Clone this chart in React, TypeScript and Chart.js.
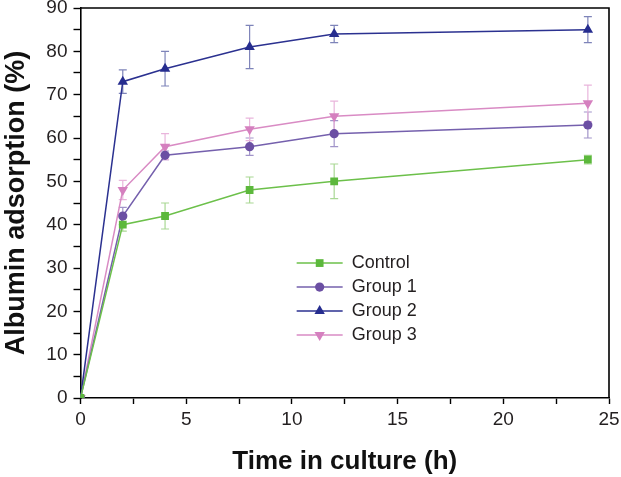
import React, { useEffect, useRef } from 'react';
import { Chart, registerables } from 'chart.js';

Chart.register(...registerables);

// ---- data ----
const hours = [0, 2, 4, 8, 12, 24];
const seriesNames = ['Control', 'Group 1', 'Group 2', 'Group 3'];
const controlValues = [0, 40, 42, 48, 50, 55];
const controlErrors = [0, 1.5, 3, 3, 4, 1];
const group1Values = [0, 42, 56, 58, 61, 63];
const group1Errors = [0, 2, 1, 2, 3, 3];
const group2Values = [0, 73, 76, 81, 84, 85];
const group2Errors = [0, 2.7, 4, 5, 2, 3];
const group3Values = [0, 48, 58, 62, 65, 68];
const group3Errors = [0, 2.2, 3, 2.6, 3.5, 4.2];
const xTickLabels = [0, 5, 10, 15, 20, 25];
const yTickLabels = [0, 10, 20, 30, 40, 50, 60, 70, 80, 90];

const allValues = [controlValues, group1Values, group2Values, group3Values];
const allErrors = [controlErrors, group1Errors, group2Errors, group3Errors];

// ---- styles ----
const lineColors = ['#6cc04a', '#7560ad', '#2b3190', '#d98bc4'];
const markerColors = ['#5cb83c', '#6b4fa3', '#262d8f', '#d580bf'];
const errorColors = ['#a9d894', '#a194c9', '#7e84b9', '#e9b5dc'];
const pointStyles = ['rect', 'circle', 'triangle', 'triangle'];
const pointRotations = [0, 0, 0, 180];
const pointRadii = [5.5, 4.6, 6, 6];
const FONT = '"Liberation Sans", Arial, Helvetica, sans-serif';
const TEXT = '#231f20';

function drawMarker(ctx: CanvasRenderingContext2D, style: string, rot: number, r: number, x: number, y: number) {
  ctx.beginPath();
  if (style === 'rect') {
    const s = Math.SQRT1_2 * r;
    ctx.rect(x - s, y - s, 2 * s, 2 * s);
  } else if (style === 'circle') {
    ctx.arc(x, y, r, 0, Math.PI * 2);
  } else {
    const a = (rot * Math.PI) / 180;
    for (let k = 0; k < 3; k++) {
      const ang = a + (k * 2 * Math.PI) / 3;
      const px = x + Math.sin(ang) * r;
      const py = y - Math.cos(ang) * r;
      if (k === 0) ctx.moveTo(px, py);
      else ctx.lineTo(px, py);
    }
    ctx.closePath();
  }
  ctx.fill();
}

const errorBarPlugin = {
  id: 'errorBars',
  beforeDatasetsDraw(chart: any) {
    const { ctx } = chart;
    const xs = chart.scales.x;
    const ys = chart.scales.y;
    chart.data.datasets.forEach((ds: any, i: number) => {
      const errs = allErrors[i];
      ctx.save();
      ctx.strokeStyle = errorColors[i];
      ctx.lineWidth = 1.2;
      ds.data.forEach((p: any, j: number) => {
        const e = errs[j];
        if (!e) return;
        const x = xs.getPixelForValue(p.x);
        const y1 = ys.getPixelForValue(p.y + e);
        const y2 = ys.getPixelForValue(p.y - e);
        ctx.beginPath();
        ctx.moveTo(x, y1);
        ctx.lineTo(x, y2);
        ctx.moveTo(x - 4, y1);
        ctx.lineTo(x + 4, y1);
        ctx.moveTo(x - 4, y2);
        ctx.lineTo(x + 4, y2);
        ctx.stroke();
      });
      ctx.restore();
    });
  },
};

const framePlugin = {
  id: 'frame',
  afterDraw(chart: any) {
    const { ctx, chartArea } = chart;
    ctx.save();
    ctx.strokeStyle = '#000';
    ctx.lineWidth = 1.6;
    ctx.beginPath();
    ctx.moveTo(chartArea.left, chartArea.top);
    ctx.lineTo(chartArea.right, chartArea.top);
    ctx.lineTo(chartArea.right, chartArea.bottom);
    ctx.stroke();
    ctx.restore();
  },
};

const legendPlugin = {
  id: 'insideLegend',
  afterDraw(chart: any) {
    const { ctx, chartArea } = chart;
    const w = chartArea.right - chartArea.left;
    const h = chartArea.bottom - chartArea.top;
    const x0 = chartArea.left + w * 0.409;
    const y0 = chartArea.top + h * 0.654;
    const step = 24;
    ctx.save();
    chart.data.datasets.forEach((ds: any, i: number) => {
      const y = y0 + i * step;
      ctx.strokeStyle = lineColors[i];
      ctx.lineWidth = 1.5;
      ctx.beginPath();
      ctx.moveTo(x0, y);
      ctx.lineTo(x0 + 46, y);
      ctx.stroke();
      ctx.fillStyle = markerColors[i];
      drawMarker(ctx, pointStyles[i], pointRotations[i], pointRadii[i], x0 + 23, y);
      ctx.fillStyle = TEXT;
      ctx.font = `18px ${FONT}`;
      ctx.textBaseline = 'middle';
      ctx.textAlign = 'left';
      ctx.fillText(ds.label, x0 + 55, y);
    });
    ctx.restore();
  },
};

export default function App() {
  const ref = useRef<HTMLCanvasElement | null>(null);

  useEffect(() => {
    if (!ref.current) return;
    const datasets = seriesNames.map((name, i) => ({
      label: name,
      data: hours.map((h, j) => ({ x: h, y: allValues[i][j] })),
      borderColor: lineColors[i],
      backgroundColor: markerColors[i],
      borderWidth: 1.5,
      pointStyle: pointStyles[i],
      pointRotation: pointRotations[i],
      pointRadius: pointRadii[i],
      pointBorderWidth: 0,
      pointBackgroundColor: markerColors[i],
      pointBorderColor: markerColors[i],
      tension: 0,
    }));

    const chart = new Chart(ref.current, {
      type: 'line',
      data: { datasets },
      plugins: [errorBarPlugin, framePlugin, legendPlugin],
      options: {
        animation: false,
        responsive: false,
        devicePixelRatio: 1,
        layout: { padding: { top: 8, right: 12, left: 0, bottom: 0 } },
        plugins: { legend: { display: false }, tooltip: { enabled: false } },
        scales: {
          x: {
            type: 'linear',
            min: 0,
            max: 25,
            afterFit: (s: any) => {
              s.height = 79;
              s.paddingLeft = 0;
              s.paddingRight = 0;
            },
            border: { color: '#000', width: 1.6 },
            grid: { drawOnChartArea: false, drawTicks: true, tickLength: 6, color: '#000', tickWidth: 1.4 },
            ticks: {
              stepSize: 2.5,
              autoSkip: false,
              maxRotation: 0,
              padding: 4,
              color: TEXT,
              font: { family: FONT, size: 19 },
              callback: (v: any) => (xTickLabels.includes(Number(v)) ? String(v) : ''),
            },
            title: {
              display: true,
              text: 'Time in culture (h)',
              color: '#111',
              font: { family: FONT, size: 26, weight: 'bold' },
              padding: 0,
            },
          },
          y: {
            min: 0,
            max: 90,
            afterFit: (s: any) => {
              s.width = 80.5;
              s.paddingTop = 0;
              s.paddingBottom = 0;
            },
            border: { color: '#000', width: 1.6 },
            grid: { drawOnChartArea: false, drawTicks: true, tickLength: 7, color: '#000', tickWidth: 1.4 },
            ticks: {
              stepSize: 5,
              autoSkip: false,
              padding: 6,
              color: TEXT,
              font: { family: FONT, size: 19 },
              callback: (v: any) => (yTickLabels.includes(Number(v)) ? String(v) : ''),
            },
            title: {
              display: true,
              text: 'Albumin adsorption (%)',
              color: '#111',
              font: { family: FONT, size: 27, weight: 'bold' },
              padding: 0,
            },
          },
        },
      } as any,
    });
    return () => chart.destroy();
  }, []);

  return (
    <div style={{ position: 'fixed', left: 0, top: 0, width: 621, height: 477, background: '#fff' }}>
      <canvas ref={ref} width={621} height={477} style={{ width: 621, height: 477, display: 'block' }} />
    </div>
  );
}
